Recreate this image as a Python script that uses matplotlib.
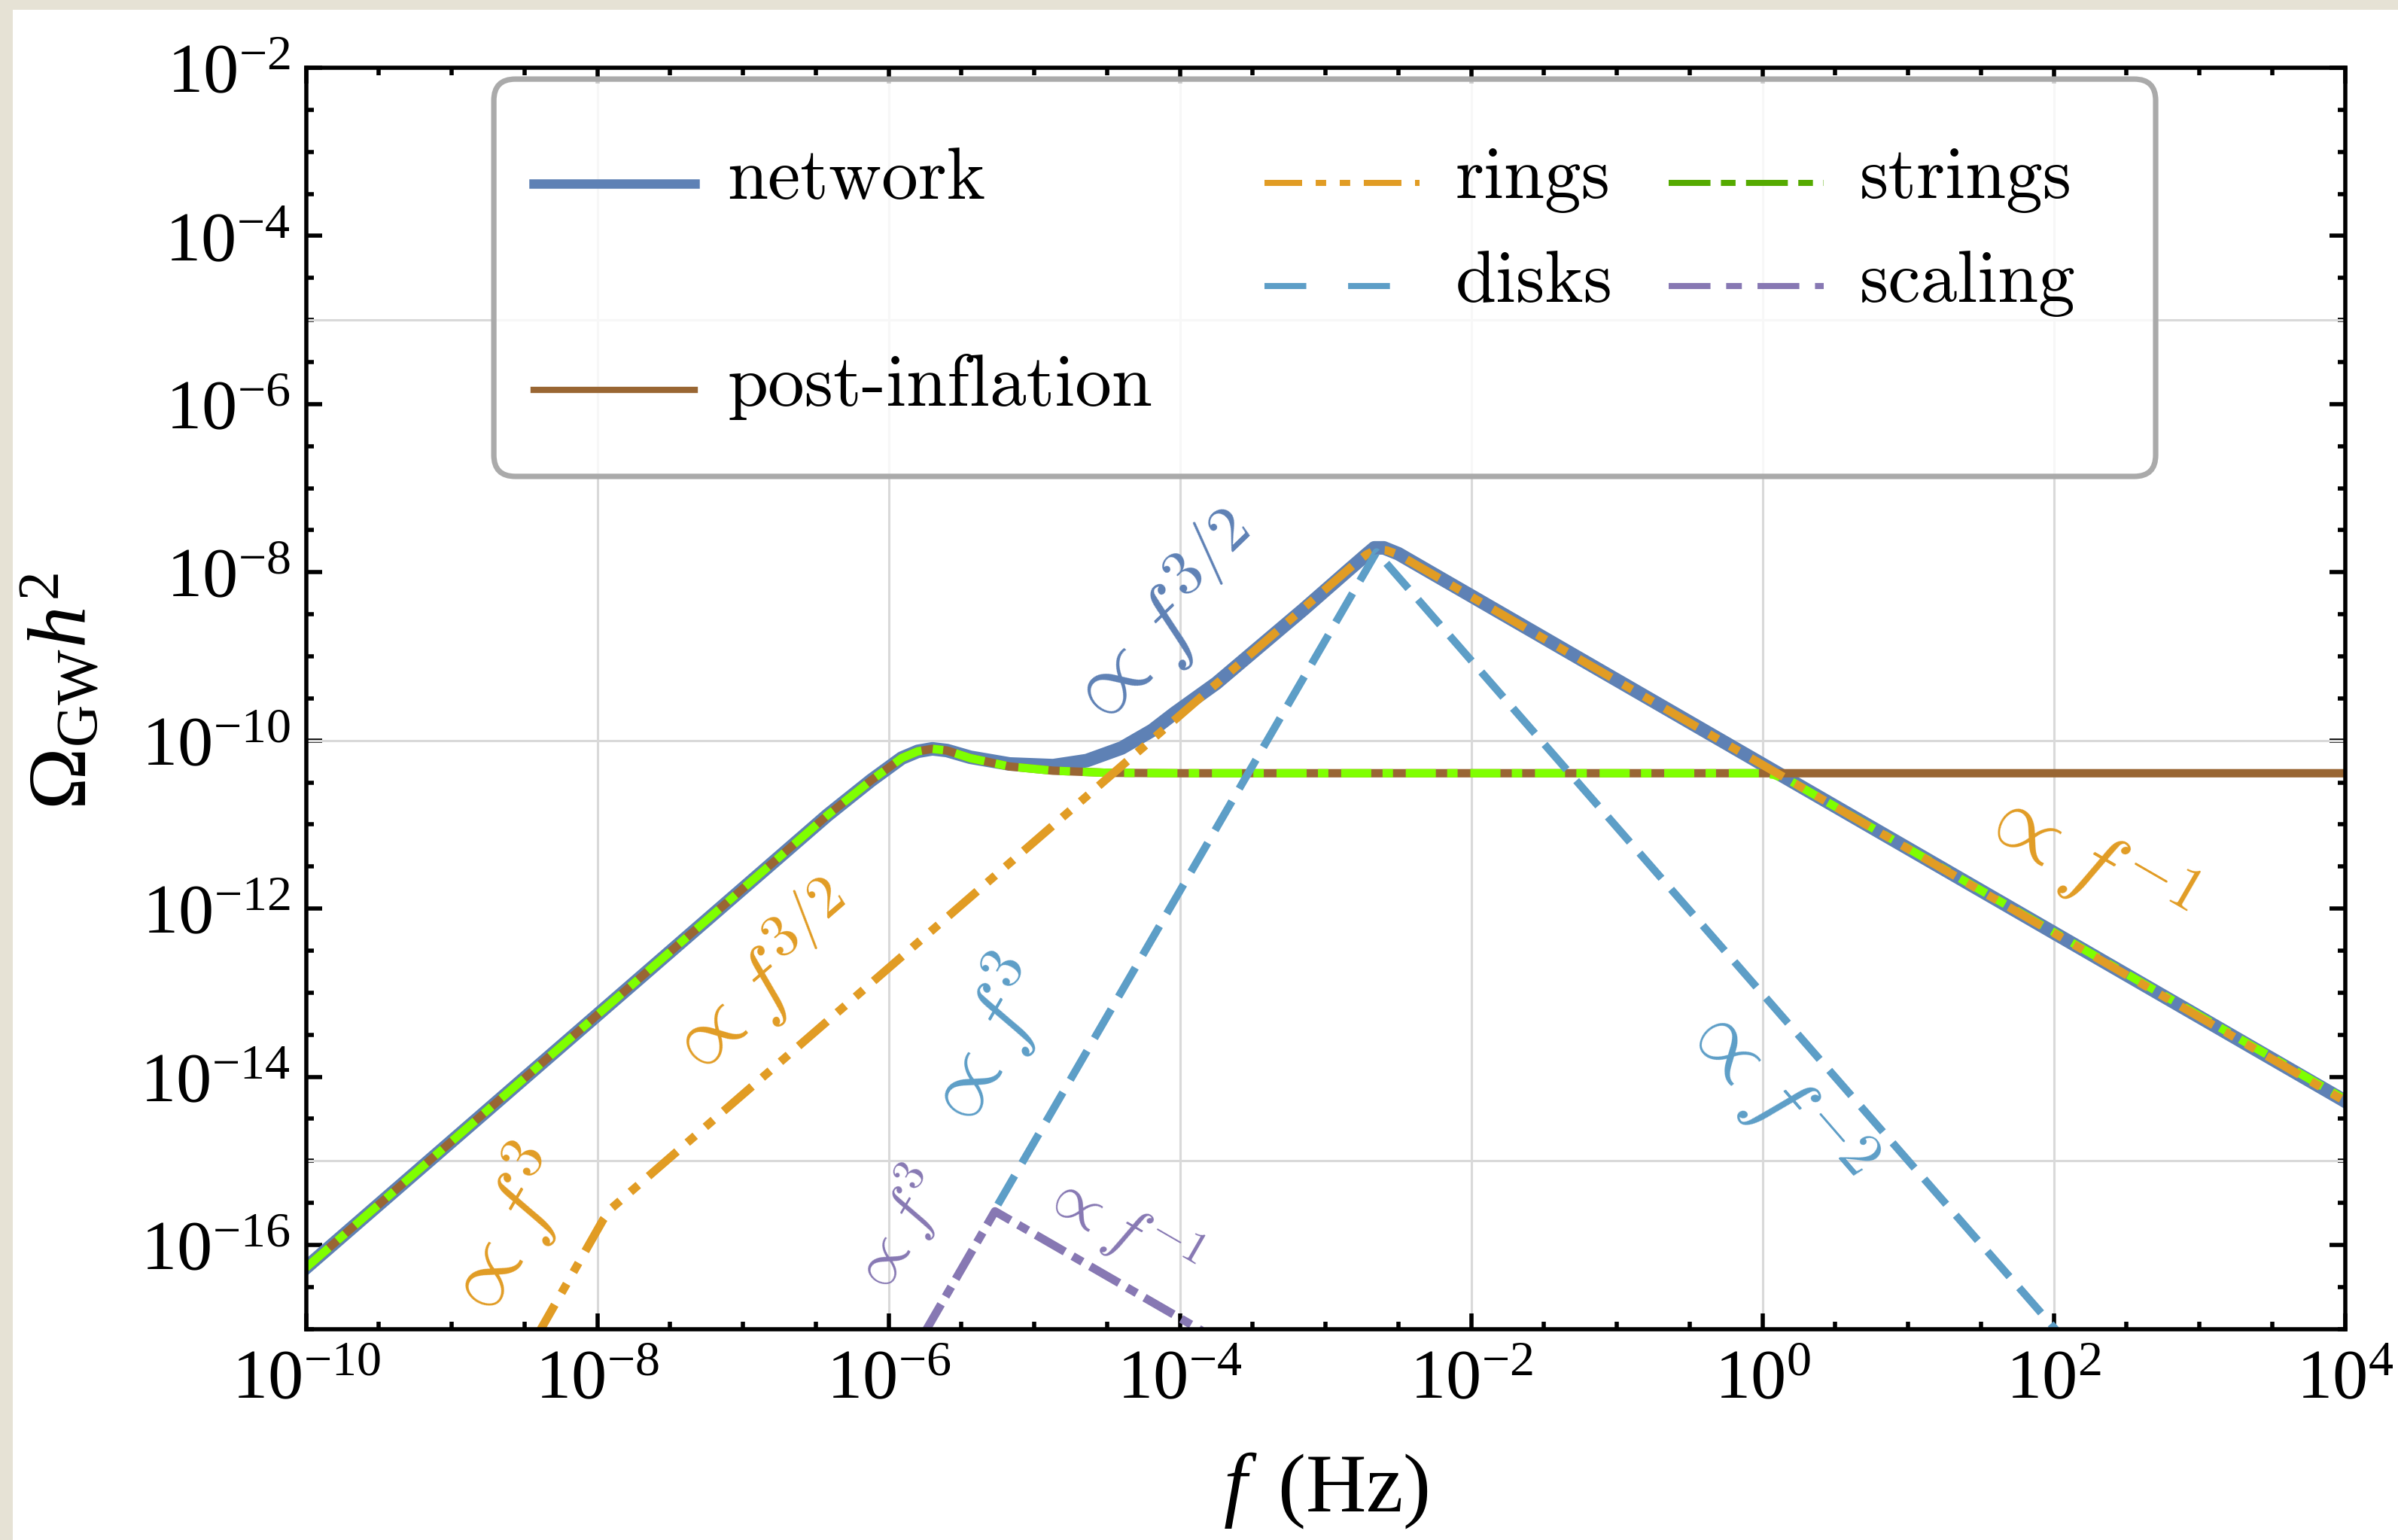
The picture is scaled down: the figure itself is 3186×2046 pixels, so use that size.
import numpy as np
import matplotlib
matplotlib.use("Agg")
import matplotlib.pyplot as plt
from matplotlib.lines import Line2D
from matplotlib.patches import FancyBboxPatch, Rectangle
from matplotlib.legend_handler import HandlerLine2D
from matplotlib.ticker import FixedLocator, FixedFormatter, NullFormatter

plt.rcParams.update({
    "font.family": "Liberation Serif",
    "mathtext.fontset": "custom",
    "mathtext.rm": "Liberation Serif",
    "mathtext.it": "Liberation Serif:italic",
    "mathtext.bf": "Liberation Serif:bold",
    "lines.scale_dashes": False,
})

# ---------------------------------------------------------------
# Spectra: log10(f / Hz) and log10(Omega_GW h^2)
# ---------------------------------------------------------------
network_logf = [-10.0, -6.42, -6.12, -5.91, -5.80, -5.70, -5.60, -5.44, -5.17,
                -4.87, -4.64, -4.40, -4.19, -4.04, -3.75, -3.45, -3.15, -2.86,
                -2.72, -2.665, -2.60, -2.50, 4.0]
network_logomega = [-16.27, -10.89, -10.475, -10.21, -10.13, -10.10, -10.12, -10.20,
                     -10.28, -10.30, -10.24, -10.09, -9.88, -9.68, -9.32, -8.88,
                     -8.44, -8.00, -7.79, -7.71, -7.71, -7.78, -14.29]

strings_logf = [-10.0, -6.42, -6.12, -5.91, -5.80, -5.70, -5.60, -5.44, -5.17,
                -4.87, -4.50, -4.00, 0.00, 0.08, 0.20, 4.0]
strings_logomega = [-16.27, -10.89, -10.475, -10.21, -10.13, -10.10, -10.12, -10.21,
                     -10.31, -10.36, -10.385, -10.39, -10.39, -10.41, -10.49, -14.27]

post_logf = [-10.0, -6.42, -6.12, -5.91, -5.80, -5.70, -5.60, -5.44, -5.17,
             -4.87, -4.50, -4.00, 4.0]
post_logomega = [-16.27, -10.89, -10.475, -10.21, -10.13, -10.10, -10.12, -10.21,
                 -10.31, -10.36, -10.385, -10.39, -10.39]

rings_logf = [-8.42, -7.96, -7.90, -7.84, -2.80, -2.72, -2.65, -2.58, -2.50, 4.0]
rings_logomega = [-17.10, -15.70, -15.56, -15.47, -7.90, -7.79, -7.73, -7.74, -7.79, -14.29]

disks_logf = [-5.25, -2.65, 2.04]
disks_logomega = [-15.52, -7.76, -17.06]

scaling_logf = [-5.755, -5.27, -3.85]
scaling_logomega = [-17.05, -15.60, -17.02]

# power-law annotations
label_text = [r"$\propto f^{3/2}$", r"$\propto f^{3/2}$", r"$\propto f^{3}$",
              r"$\propto f^{3}$", r"$\propto f^{3}$", r"$\propto f^{-1}$",
              r"$\propto f^{-2}$", r"$\propto f^{-1}$"]
label_logf = [-4.11, -6.88, -8.63, -5.34, -5.94, -4.41, 0.085, 2.22]
label_logomega = [-8.62, -12.88, -15.90, -13.65, -15.86, -15.78, -14.21, -11.42]
label_angle = [44.0, 40.9, 60.0, 60.0, 60.0, -30.0, -49.1, -30.0]
label_size = [44, 41, 42, 42, 31, 31, 42, 42]

# tick layout (decade exponents)
xtick_exp = [-10, -8, -6, -4, -2, 0, 2, 4]
ytick_exp = [-16, -14, -12, -10, -8, -6, -4, -2]
ygrid_exp = [-5, -10, -15]

C_NET = "#5E81B5"
C_RING = "#E19C24"
C_STR = "#7FFF00"
C_STR_KEY = "#55AA00"
C_DISK = "#5D9EC7"
C_SCAL = "#8778B3"
C_POST = "#996633"

label_color = [C_NET, C_RING, C_RING, C_DISK, C_SCAL, C_SCAL, C_DISK, C_RING]

RINGS_DASH = (0, (18, 6.5, 5, 6.5, 5, 6.5))
STR_DASH = (0, (14.4, 5.4, 5, 6.1))
DISK_DASH = (0, (16, 7))
SCAL_DASH = (0, (16, 4.3, 5.4, 4.3))

W, H, DPI = 3186, 2046, 200
fig = plt.figure(figsize=(W / DPI, H / DPI), dpi=DPI, facecolor="white")

# paper-coloured edge strips
fig.patches.append(Rectangle((0, 1 - 13 / H), 1, 13 / H, transform=fig.transFigure,
                             fc="#E6E2D5", ec="none", zorder=-10))
fig.patches.append(Rectangle((0, 0), 17 / W, 1, transform=fig.transFigure,
                             fc="#E6E2D5", ec="none", zorder=-10))

ax_l, ax_r, ax_t, ax_b = 406.6, 3115.7, 90.0, 1765.7
ax = fig.add_axes([ax_l / W, 1 - ax_b / H, (ax_r - ax_l) / W, (ax_b - ax_t) / H])
ax.set_xscale("log")
ax.set_yscale("log")
ax.set_xlim(1e-10, 1e4)
ax.set_ylim(1e-17, 1e-2)


def p10(v):
    return np.power(10.0, np.asarray(v, dtype=float))


ax.plot(p10(network_logf), p10(network_logomega), color=C_NET, lw=6.5,
        solid_joinstyle="round", zorder=3)
ax.plot(p10(post_logf), p10(post_logomega), color=C_POST, lw=4.0,
        solid_joinstyle="round", zorder=4)
ax.plot(p10(strings_logf), p10(strings_logomega), color=C_STR, lw=4.0,
        linestyle=STR_DASH, zorder=5)
ax.plot(p10(rings_logf), p10(rings_logomega), color=C_RING, lw=4.0,
        linestyle=RINGS_DASH, zorder=6)
ax.plot(p10(disks_logf), p10(disks_logomega), color=C_DISK, lw=3.7,
        linestyle=DISK_DASH, zorder=6)
ax.plot(p10(scaling_logf), p10(scaling_logomega), color=C_SCAL, lw=4.0,
        linestyle=SCAL_DASH, zorder=6)

for s, lf, lo, ang, fs, c in zip(label_text, label_logf, label_logomega,
                                 label_angle, label_size, label_color):
    ax.text(10.0 ** lf, 10.0 ** lo, s, rotation=ang, rotation_mode="anchor",
            ha="center", va="center", color=c, fontsize=fs,
            math_fontfamily="cm", zorder=7)

# grid
for e in ygrid_exp:
    ax.axhline(10.0 ** e, color="#D9D9D9", lw=1.1, zorder=1)
ax.grid(axis="x", which="major", color="#D9D9D9", lw=1.1, zorder=1)
ax.set_axisbelow(True)

# ticks
ax.xaxis.set_major_locator(FixedLocator(p10(xtick_exp)))
ax.xaxis.set_major_formatter(FixedFormatter([rf"$10^{{{e}}}$" for e in xtick_exp]))
xminor = [e for e in np.arange(-10, 4.01, 0.5) if e not in xtick_exp]
ax.xaxis.set_minor_locator(FixedLocator(p10(xminor)))
ax.xaxis.set_minor_formatter(NullFormatter())

ax.yaxis.set_major_locator(FixedLocator(p10(ytick_exp)))
ax.yaxis.set_major_formatter(FixedFormatter([rf"$10^{{{e}}}$" for e in ytick_exp]))
yminor = [e for e in np.arange(-17, -1.99, 0.5) if e not in ytick_exp]
ax.yaxis.set_minor_locator(FixedLocator(p10(yminor)))
ax.yaxis.set_minor_formatter(NullFormatter())

ax.tick_params(which="both", direction="in", top=True, right=True, width=2.0,
               color="black", labelsize=34)
ax.tick_params(which="major", length=7.4)
ax.tick_params(which="minor", length=3.7)
ax.tick_params(axis="x", which="major", pad=9.5)
ax.tick_params(axis="y", which="major", pad=7.5)
for sp in ax.spines.values():
    sp.set_linewidth(2.0)
    sp.set_color("black")
    sp.set_zorder(8)

ax.set_xlabel(r"$f\,$ (Hz)", fontsize=40)
ax.xaxis.set_label_coords(0.5, -0.0963)
ax.set_ylabel(r"$\Omega_{\mathrm{GW}}h^2$", fontsize=40)
ax.yaxis.set_label_coords(-0.0991, 0.5056)


# legend
class ShiftedLine(HandlerLine2D):
    def __init__(self, shift=0.0, **kw):
        super().__init__(**kw)
        self.shift = shift

    def create_artists(self, legend, orig_handle, xdescent, ydescent, width,
                       height, fontsize, trans):
        arts = super().create_artists(legend, orig_handle, xdescent, ydescent,
                                      width, height, fontsize, trans)
        for a in arts:
            if isinstance(a, Line2D):
                a.set_ydata(np.asarray(a.get_ydata()) - self.shift * fontsize)
        return arts


hmap = {Line2D: ShiftedLine(0.14)}
key_font = dict(family="cmr10", size=35)

k_net = Line2D([], [], color=C_NET, lw=4.5)
k_blank = Line2D([], [], color="none", lw=0)
k_post = Line2D([], [], color=C_POST, lw=3.0)
k_rings = Line2D([], [], color=C_RING, lw=2.9, linestyle=RINGS_DASH)
k_disks = Line2D([], [], color=C_DISK, lw=2.9, linestyle=(0, (20, 20)))
k_str = Line2D([], [], color=C_STR_KEY, lw=2.9, linestyle=(0, (20, 5, 7, 5)))
k_scal = Line2D([], [], color=C_SCAL, lw=2.9, linestyle=(0, (20, 7.5, 7.5, 7.5)))

frame_x0, frame_x1 = 0.0921, 0.9071
frame_y0, frame_y1 = 0.676, 0.991
aspect = (ax_r - ax_l) / (ax_b - ax_t)
frame = FancyBboxPatch((frame_x0, frame_y0), frame_x1 - frame_x0, frame_y1 - frame_y0,
                       boxstyle="round,pad=0,rounding_size=0.0105",
                       mutation_aspect=aspect, transform=ax.transAxes,
                       fc=(1, 1, 1, 0.8), ec="#AAAAAA", lw=2.6, zorder=9)
ax.add_patch(frame)

leg1 = ax.legend([k_net, k_blank, k_post], ["network", " ", "post-inflation"],
                 loc="center left", bbox_to_anchor=(0.1116, 0.8287),
                 bbox_transform=ax.transAxes, frameon=False, borderpad=0,
                 borderaxespad=0, handlelength=2.2, handletextpad=0.45,
                 labelspacing=0.51, prop=key_font, handler_map=hmap)
leg1.set_zorder(10)
ax.add_artist(leg1)
leg2 = ax.legend([k_rings, k_disks, k_str, k_scal], ["rings", "disks", "strings", "scaling"],
                 ncol=2, loc="center left", bbox_to_anchor=(0.470, 0.870),
                 bbox_transform=ax.transAxes, frameon=False, borderpad=0,
                 borderaxespad=0, handlelength=2.12, handletextpad=0.49,
                 columnspacing=0.76, labelspacing=0.51, prop=key_font,
                 handler_map=hmap)
leg2.set_zorder(10)

fig.savefig("out.png", dpi=DPI, facecolor="white")
